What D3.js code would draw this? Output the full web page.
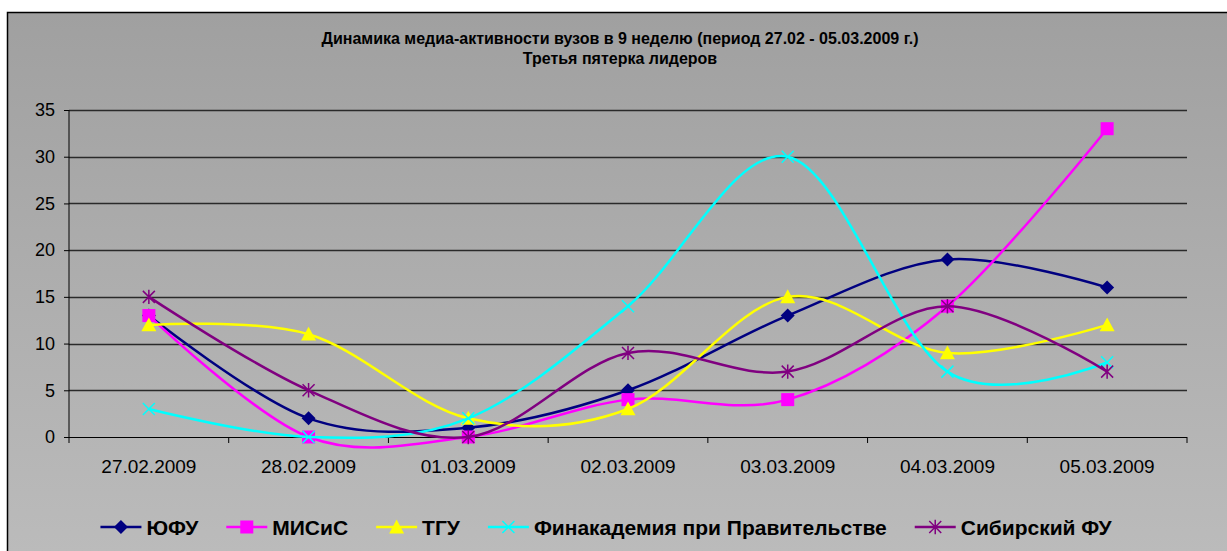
<!DOCTYPE html>
<html>
<head>
<meta charset="utf-8">
<script src="https://cdn.jsdelivr.net/npm/d3@7"></script>
<style>
  html, body { margin: 0; padding: 0; background: #fff; }
  svg { display: block; font-family: "Liberation Sans", Arial, sans-serif; }
</style>
</head>
<body>
<svg id="chart" width="1227" height="551"></svg>
<script>
// данные графика
const dates = ["27.02.2009", "28.02.2009", "01.03.2009", "02.03.2009", "03.03.2009", "04.03.2009", "05.03.2009"];
const seriesNames = ["ЮФУ", "МИСиС", "ТГУ", "Финакадемия при Правительстве", "Сибирский ФУ"];
const yufu    = [13, 2, 1, 5, 13, 19, 16];
const misis   = [13, 0, 0, 4, 4, 14, 33];
const tgu     = [12, 11, 2, 3, 15, 9, 12];
const finakad = [3, 0, 2, 14, 30, 7, 8];
const sibfu   = [15, 5, 0, 9, 7, 14, 7];
const yTicks  = [0, 5, 10, 15, 20, 25, 30, 35];

const colors  = ["#000080", "#ff00ff", "#ffff00", "#00ffff", "#800080"];
const symbols = ["diamond", "square", "triangle", "cross", "star"];
const allValues = [yufu, misis, tgu, finakad, sibfu];

const series = seriesNames.map((name, i) => ({
    name, color: colors[i], symbol: symbols[i],
    values: allValues[i].map((v, j) => ({date: dates[j], value: v}))
}));

const svg = d3.select("#chart");

// фон с градиентом
const defs = svg.append("defs");
const grad = defs.append("linearGradient")
    .attr("id", "bg").attr("x1", 0).attr("y1", 0).attr("x2", 0).attr("y2", 1);
grad.append("stop").attr("offset", "0%").attr("stop-color", "#a0a0a0");
grad.append("stop").attr("offset", "100%").attr("stop-color", "#bcbcbc");

svg.append("rect")
    .attr("x", 7.5).attr("y", 12.5)
    .attr("width", 1240).attr("height", 560)
    .attr("fill", "url(#bg)")
    .attr("stroke", "#000").attr("stroke-width", 1.5);

// заголовок
const title = svg.append("text")
    .attr("text-anchor", "middle")
    .style("font-weight", "bold").style("font-size", "16px").attr("fill", "#000");
title.append("tspan").attr("x", 620).attr("y", 44)
    .text("Динамика медиа-активности вузов в 9 неделю (период 27.02 - 05.03.2009 г.)");
title.append("tspan").attr("x", 620).attr("y", 64)
    .text("Третья пятерка лидеров");

// шкалы
const plotL = 69, plotR = 1187, plotT = 110, plotB = 437;
const x = d3.scaleBand().domain(dates).range([plotL, plotR]);
const xc = d => x(d) + x.bandwidth() / 2;
const y = d3.scaleLinear().domain([0, 35]).range([plotB, plotT]);

// сетка
svg.append("g")
    .selectAll("line")
    .data(yTicks.filter(t => t > 0))
    .join("line")
    .attr("x1", plotL).attr("x2", plotR)
    .attr("y1", d => Math.round(y(d)) + 0.5).attr("y2", d => Math.round(y(d)) + 0.5)
    .attr("stroke", "#2a2a2a").attr("stroke-width", 1.5);

// ось Y
const yAxis = svg.append("g")
    .attr("transform", `translate(${plotL},0)`)
    .call(d3.axisLeft(y).tickValues(yTicks).tickSize(5).tickPadding(9));
yAxis.selectAll("text").style("font-size", "18px").attr("fill", "#000");
yAxis.selectAll("line, path").attr("stroke", "#000");
yAxis.select(".domain").attr("d", `M0,${plotT}V${plotB}`);

// ось X
const xAxis = svg.append("g")
    .attr("transform", `translate(0,${plotB})`)
    .call(d3.axisBottom(x).tickSize(0).tickPadding(23));
xAxis.selectAll("text").style("font-size", "19px").attr("fill", "#000");
xAxis.select(".domain").attr("stroke", "#000").attr("d", `M${plotL},0.5H${plotR}`);
xAxis.selectAll(".sep")
    .data(dates.map(d => x(d)).concat([plotR]))
    .join("line")
    .attr("class", "sep")
    .attr("x1", d => d).attr("x2", d => d)
    .attr("y1", 0).attr("y2", 6)
    .attr("stroke", "#000");

// маркеры
function drawMarker(g, symbol, color, s) {
    if (symbol === "diamond") {
        g.append("path").attr("d", `M0,${-s}L${s},0L0,${s}L${-s},0Z`).attr("fill", color);
    } else if (symbol === "square") {
        g.append("rect").attr("x", -s).attr("y", -s).attr("width", 2 * s).attr("height", 2 * s).attr("fill", color);
    } else if (symbol === "triangle") {
        g.append("path").attr("d", `M0,${-s}L${s},${s * 0.85}L${-s},${s * 0.85}Z`).attr("fill", color);
    } else if (symbol === "cross") {
        g.append("path").attr("d", `M${-s},${-s}L${s},${s}M${-s},${s}L${s},${-s}`)
            .attr("stroke", color).attr("stroke-width", 1.5);
    } else {
        g.append("path").attr("d", `M${-s},${-s}L${s},${s}M${-s},${s}L${s},${-s}M0,${-s * 1.2}V${s * 1.2}`)
            .attr("stroke", color).attr("stroke-width", 1.5);
    }
}
const markerSize = {diamond: 7, square: 6.5, triangle: 7.5, cross: 6, star: 6};

const line = d3.line()
    .x(d => xc(d.date))
    .y(d => y(d.value))
    .curve(d3.curveCatmullRom.alpha(0));

series.forEach(s => {
    const g = svg.append("g");
    g.append("path")
        .datum(s.values)
        .attr("d", line)
        .attr("fill", "none")
        .attr("stroke", s.color)
        .attr("stroke-width", 2.5);
    g.selectAll("g")
        .data(s.values)
        .join("g")
        .attr("transform", d => `translate(${xc(d.date)},${y(d.value)})`)
        .each(function() { drawMarker(d3.select(this), s.symbol, s.color, markerSize[s.symbol]); });
});

// легенда
const legend = svg.append("g").attr("transform", "translate(0,527)");
const items = legend.selectAll("g").data(series).join("g");
items.append("line").attr("x1", 0).attr("x2", 41).attr("stroke", d => d.color).attr("stroke-width", 2.5);
items.each(function(d) {
    const g = d3.select(this).append("g").attr("transform", "translate(20.5,0)");
    drawMarker(g, d.symbol, d.color, markerSize[d.symbol]);
});
items.append("text")
    .attr("x", 46).attr("y", 7.5)
    .style("font-size", "21px").style("font-weight", "bold").attr("fill", "#000")
    .text(d => d.name);
let widths = [];
items.each(function() { widths.push(46 + this.querySelector("text").getComputedTextLength()); });
const gap = 28;
const total = d3.sum(widths) + gap * (widths.length - 1);
let cx = 606 - total / 2;
items.attr("transform", (d, i) => {
    const t = `translate(${cx},0)`;
    cx += widths[i] + gap;
    return t;
});
</script>
</body>
</html>
